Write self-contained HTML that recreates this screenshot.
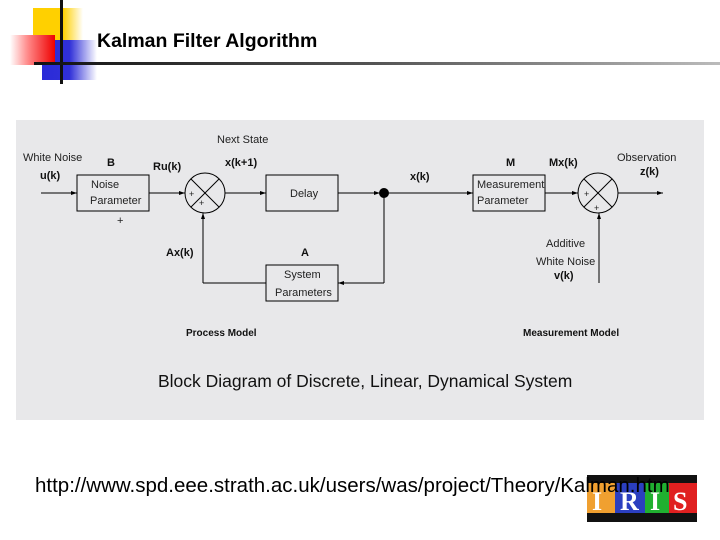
<!DOCTYPE html>
<html><head><meta charset="utf-8"><style>
html,body{margin:0;padding:0;background:#fff;}
body{width:720px;height:540px;position:relative;overflow:hidden;font-family:"Liberation Sans",sans-serif;}
.abs{position:absolute;}
</style></head><body>
<div class="abs" style="left:33px;top:8px;width:50px;height:42px;background:linear-gradient(90deg,#ffd000 0%,#ffd000 60%,#fff 100%);"></div>
<div class="abs" style="left:42px;top:40px;width:55px;height:40px;background:linear-gradient(90deg,#2a2ad8 0%,#3030d8 50%,#fff 100%);"></div>
<div class="abs" style="left:10px;top:35px;width:45px;height:30px;background:linear-gradient(90deg,#fff 0%,#f88 40%,#e00 100%);"></div>
<div class="abs" style="left:60px;top:0;width:3px;height:84px;background:#111;"></div>
<div class="abs" style="left:34px;top:62px;width:686px;height:3px;background:linear-gradient(90deg,#111 0%,#555 50%,#bbb 100%);"></div>
<div class="abs" style="left:97px;top:30px;font-size:19.5px;font-weight:bold;color:#000;">Kalman Filter Algorithm</div>

<svg class="abs" style="left:0;top:0" width="720" height="540" font-family="Liberation Sans, sans-serif">
<rect x="16" y="120" width="688" height="300" fill="#e8e8ea"/>
<g stroke="#000" stroke-width="1" fill="none">
<line x1="41" y1="193" x2="77" y2="193"/>
<rect x="77" y="175" width="72" height="36"/>
<line x1="149" y1="193" x2="185" y2="193"/>
<circle cx="205" cy="193" r="20"/>
<line x1="191" y1="179" x2="219" y2="207"/><line x1="219" y1="179" x2="191" y2="207"/>
<line x1="225" y1="193" x2="266" y2="193"/>
<rect x="266" y="175" width="72" height="36"/>
<line x1="338" y1="193" x2="473" y2="193"/>
<line x1="384" y1="193" x2="384" y2="283"/>
<line x1="384" y1="283" x2="338" y2="283"/>
<rect x="266" y="265" width="72" height="36"/>
<line x1="266" y1="283" x2="203" y2="283"/>
<line x1="203" y1="283" x2="203" y2="213"/>
<rect x="473" y="175" width="72" height="36"/>
<line x1="545" y1="193" x2="578" y2="193"/>
<circle cx="598" cy="193" r="20"/>
<line x1="584" y1="179" x2="612" y2="207"/><line x1="612" y1="179" x2="584" y2="207"/>
<line x1="618" y1="193" x2="663" y2="193"/>
<line x1="599" y1="213" x2="599" y2="283"/>
</g>
<g fill="#000">
<path d="M77 193 l-6 -2 v4z"/><path d="M185 193 l-6 -2 v4z"/><path d="M266 193 l-6 -2 v4z"/>
<path d="M380 193 l-6 -2 v4z"/><path d="M473 193 l-6 -2 v4z"/><path d="M578 193 l-6 -2 v4z"/>
<path d="M663 193 l-6 -2 v4z"/><path d="M338 283 l6 -2 v4z"/>
<path d="M203 213 l-2 6 h4z"/><path d="M599 213 l-2 6 h4z"/>
<circle cx="384" cy="193" r="5"/>
</g>
<g font-size="11" fill="#222">
<text x="217" y="143">Next State</text>
<text x="23" y="161">White Noise</text>
<text x="91" y="188">Noise</text><text x="90" y="204">Parameter</text>
<text x="290" y="197">Delay</text>
<text x="284" y="278">System</text><text x="275" y="296">Parameters</text>
<text x="477" y="188">Measurement</text><text x="477" y="204">Parameter</text>
<text x="617" y="161">Observation</text>
<text x="546" y="247">Additive</text>
<text x="536" y="265">White Noise</text>
<text x="117" y="224">+</text>
<text x="189" y="197" font-size="9">+</text><text x="199" y="206" font-size="9">+</text>
<text x="584" y="197" font-size="9">+</text><text x="594" y="211" font-size="9">+</text>
</g>
<g font-size="11" font-weight="bold" fill="#111">
<text x="40" y="179">u(k)</text>
<text x="107" y="166">B</text>
<text x="153" y="170">Ru(k)</text>
<text x="225" y="166">x(k+1)</text>
<text x="410" y="180">x(k)</text>
<text x="506" y="166">M</text>
<text x="549" y="166">Mx(k)</text>
<text x="640" y="175">z(k)</text>
<text x="166" y="256">Ax(k)</text>
<text x="301" y="256">A</text>
<text x="554" y="279">v(k)</text>
<text x="186" y="336" font-size="10">Process Model</text>
<text x="523" y="336" font-size="10">Measurement Model</text>
</g>
<text x="158" y="387" font-size="17.5" fill="#111">Block Diagram of Discrete, Linear, Dynamical System</text>
<rect x="587" y="475" width="110" height="48" fill="#fff"/>
<rect x="587" y="475" width="110" height="8" fill="#111"/>
<rect x="587" y="483" width="28" height="30" fill="#f0a030"/>
<rect x="615" y="483" width="30" height="30" fill="#2b3fc0"/>
<rect x="645" y="483" width="24" height="30" fill="#20b030"/>
<rect x="669" y="483" width="28" height="30" fill="#e02020"/>
<g font-size="26" font-weight="bold" fill="#fff" font-family="Liberation Serif, serif">
<text x="592" y="510">I</text><text x="620" y="510">R</text><text x="650" y="510">I</text><text x="673" y="510">S</text>
</g>
<rect x="587" y="513" width="110" height="9" fill="#111"/>
<text x="35" y="492" font-size="20.5" fill="#000">http://www.spd.eee.strath.ac.uk/users/was/project/Theory/Kalman.htm</text>
</svg>
</body></html>
